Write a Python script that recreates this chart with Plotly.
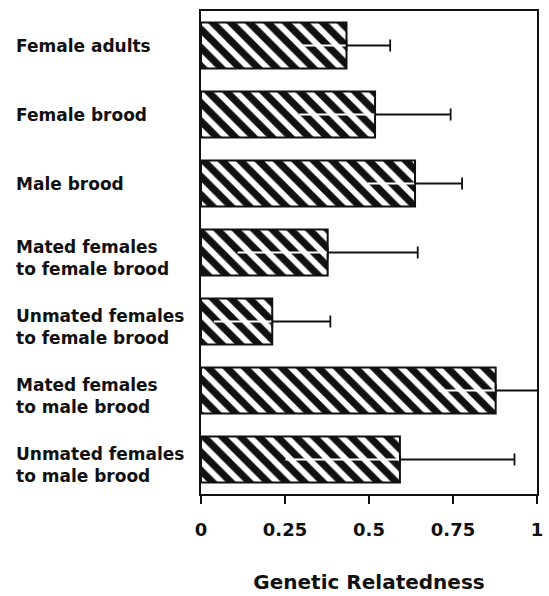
import plotly.graph_objects as go

categories = [
    "Female adults",
    "Female brood",
    "Male brood",
    "Mated females<br>to female brood",
    "Unmated females<br>to female brood",
    "Mated females<br>to male brood",
    "Unmated females<br>to male brood",
]
relatedness = [0.433, 0.518, 0.637, 0.377, 0.212, 0.877, 0.592]
errors = [0.13, 0.225, 0.14, 0.268, 0.173, 0.17, 0.341]
zeros = [0] * len(categories)

tick_vals = [0, 0.25, 0.5, 0.75, 1]
tick_text = ["0", "0.25", "0.5", "0.75", "1"]

FONT = "DejaVu Sans"
INK = "#111111"

fig = go.Figure()

fig.add_trace(go.Bar(
    x=relatedness, y=categories, orientation="h",
    marker=dict(
        color="white",
        line=dict(color=INK, width=2),
        pattern=dict(shape="\\", size=13, solidity=0.55,
                     fgcolor=INK, bgcolor="white", fillmode="replace",
                     fgopacity=1),
    ),
    width=0.67,
    showlegend=False, hoverinfo="skip",
))

# white part of the error bar, inside the bar
fig.add_trace(go.Scatter(
    x=relatedness, y=categories, mode="markers",
    marker=dict(size=1, opacity=0),
    error_x=dict(type="data", symmetric=False, array=zeros, arrayminus=errors,
                 color="white", thickness=2, width=0),
    showlegend=False, hoverinfo="skip",
))

# black part of the error bar, outside the bar
fig.add_trace(go.Scatter(
    x=relatedness, y=categories, mode="markers",
    marker=dict(size=1, opacity=0),
    error_x=dict(type="data", symmetric=False, array=errors, arrayminus=zeros,
                 color=INK, thickness=1.8, width=6),
    showlegend=False, hoverinfo="skip",
))

for cat in categories:
    fig.add_annotation(
        x=-0.556, xref="paper", y=cat, yref="y",
        text=cat, showarrow=False, xanchor="left", yanchor="middle", align="left",
        yshift=-5 if "<br>" in cat else 0,
        font=dict(family=FONT, size=17, color=INK, weight="bold"),
    )

fig.update_layout(
    width=549, height=596,
    margin=dict(l=201, r=6, t=11, b=92),
    paper_bgcolor="white", plot_bgcolor="white",
    bargap=0.33,
    xaxis=dict(
        range=[0, 1], tickvals=tick_vals, ticktext=tick_text,
        ticks="outside", ticklen=8, tickwidth=2, tickcolor=INK,
        ticklabelstandoff=10, ticklabeloverflow="allow",
        showline=True, linecolor=INK, linewidth=2, mirror=True,
        showgrid=False, zeroline=False,
        tickfont=dict(family=FONT, size=18, color=INK, weight="bold"),
        title=dict(text="Genetic Relatedness", standoff=36,
                   font=dict(family=FONT, size=20, color=INK, weight="bold")),
    ),
    yaxis=dict(
        type="category", categoryorder="array", categoryarray=categories,
        range=[6.5, -0.5], showticklabels=False, ticks="",
        showline=True, linecolor=INK, linewidth=2, mirror=True,
        showgrid=False, zeroline=False,
    ),
)

# remove the browser's default 8px page margin so the figure fills the window
fig.write_html(
    "out.html",
    config={"displayModeBar": False, "staticPlot": True},
    post_script="document.documentElement.style.margin='0';"
                "document.body.style.margin='0';"
                "document.body.style.overflow='hidden';",
)
